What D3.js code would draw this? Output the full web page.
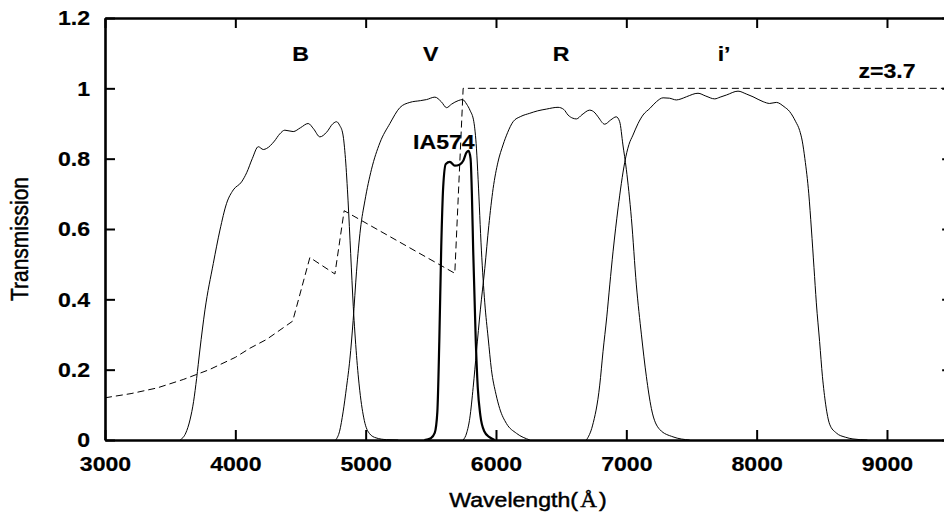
<!DOCTYPE html>
<html>
<head>
<meta charset="utf-8">
<script src="https://cdn.jsdelivr.net/npm/d3@7"></script>
<style>
  html, body { margin: 0; padding: 0; background: #fff; }
  svg { display: block; }
  text { font-family: "Liberation Sans", Arial, Helvetica, sans-serif; fill: #000; }
  .title { stroke: #000; stroke-width: 0.45px; }
  .tick text, .note { stroke: #000; stroke-width: 0.2px; }
</style>
</head>
<body>
<svg id="chart" width="944" height="516"></svg>
<script>
// ---- axis ticks ----
const xTicks = [3000, 4000, 5000, 6000, 7000, 8000, 9000];
const yTicks = [0, 0.2, 0.4, 0.6, 0.8, 1.0, 1.2];
const yTickLabels = ["0", "0.2", "0.4", "0.6", "0.8", "1", "1.2"];

// ---- filter transmission curves (wavelength in Å, transmission) ----
const bWave  = [3575, 3620, 3652, 3680, 3703, 3728, 3767, 3831, 3882, 3933, 3984, 4048, 4087, 4130, 4176, 4215, 4240, 4300, 4340, 4380, 4444, 4500, 4559, 4600, 4649, 4700, 4750, 4777, 4800, 4825, 4845, 4865, 4885, 4905, 4930, 4955, 4990, 5030, 5080, 5160, 5250];
const bTrans = [0, 0.02, 0.057, 0.11, 0.175, 0.256, 0.37, 0.502, 0.597, 0.673, 0.711, 0.734, 0.76, 0.8, 0.834, 0.826, 0.829, 0.85, 0.87, 0.881, 0.877, 0.888, 0.9, 0.885, 0.862, 0.875, 0.9, 0.905, 0.895, 0.87, 0.8, 0.68, 0.53, 0.38, 0.24, 0.14, 0.055, 0.018, 0.006, 0.001, 0];

const vWave  = [4770, 4800, 4827, 4853, 4879, 4904, 4930, 4960, 4994, 5045, 5109, 5186, 5262, 5339, 5420, 5467, 5531, 5580, 5621, 5659, 5710, 5743, 5775, 5800, 5830, 5850, 5863, 5888, 5914, 5940, 5965, 6000, 6028, 6080, 6157, 6260];
const vTrans = [0, 0.025, 0.08, 0.15, 0.23, 0.34, 0.48, 0.6, 0.68, 0.77, 0.845, 0.9, 0.945, 0.96, 0.965, 0.968, 0.975, 0.962, 0.945, 0.955, 0.965, 0.968, 0.955, 0.938, 0.905, 0.83, 0.74, 0.54, 0.39, 0.29, 0.2, 0.13, 0.09, 0.047, 0.019, 0];

const iaWave  = [5450, 5500, 5530, 5550, 5565, 5580, 5595, 5615, 5646, 5684, 5720, 5750, 5774, 5790, 5805, 5815, 5825, 5845, 5860, 5880, 5910, 5950, 5990];
const iaTrans = [0, 0.005, 0.02, 0.08, 0.28, 0.55, 0.72, 0.785, 0.791, 0.78, 0.783, 0.795, 0.818, 0.822, 0.8, 0.7, 0.54, 0.28, 0.15, 0.07, 0.025, 0.008, 0];

const rWave  = [5748, 5775, 5799, 5825, 5850, 5880, 5914, 5945, 5978, 6015, 6054, 6090, 6131, 6190, 6259, 6320, 6387, 6476, 6520, 6553, 6590, 6617, 6660, 6719, 6760, 6783, 6834, 6880, 6923, 6949, 6974, 7000, 7039, 7077, 7116, 7154, 7192, 7256, 7358, 7486];
const rTrans = [0, 0.02, 0.062, 0.15, 0.251, 0.37, 0.488, 0.61, 0.715, 0.79, 0.839, 0.875, 0.905, 0.92, 0.929, 0.936, 0.941, 0.946, 0.94, 0.924, 0.915, 0.913, 0.925, 0.938, 0.93, 0.919, 0.898, 0.91, 0.919, 0.905, 0.839, 0.77, 0.63, 0.441, 0.299, 0.18, 0.09, 0.03, 0.009, 0];

const iWave  = [6694, 6740, 6796, 6821, 6850, 6873, 6898, 6937, 6962, 6988, 7020, 7051, 7090, 7128, 7181, 7231, 7282, 7330, 7384, 7420, 7461, 7550, 7610, 7678, 7720, 7768, 7857, 7920, 7972, 8050, 8100, 8151, 8210, 8253, 8300, 8330, 8350, 8370, 8400, 8420, 8440, 8458, 8483, 8505, 8530, 8560, 8611, 8680, 8739, 8850];
const iTrans = [0, 0.04, 0.156, 0.251, 0.35, 0.441, 0.535, 0.66, 0.73, 0.79, 0.84, 0.867, 0.9, 0.924, 0.943, 0.962, 0.973, 0.972, 0.967, 0.97, 0.976, 0.986, 0.978, 0.97, 0.975, 0.981, 0.992, 0.984, 0.976, 0.962, 0.957, 0.96, 0.948, 0.934, 0.905, 0.88, 0.85, 0.8, 0.7, 0.6, 0.49, 0.39, 0.28, 0.18, 0.1, 0.045, 0.02, 0.008, 0.003, 0];

// ---- model spectrum of a z=3.7 source (Lyman forest attenuation) ----
const specWave  = [3000, 3200, 3400, 3600, 3800, 4000, 4112, 4240, 4440, 4572, 4764, 4835, 5684, 5748, 9500];
const specTrans = [0.12, 0.132, 0.148, 0.172, 0.2, 0.235, 0.261, 0.286, 0.338, 0.519, 0.472, 0.652, 0.474, 1.0, 1.0];

// ---- annotations ----
const filterNames = ["B", "V", "R", "i\u2019"];
const filterLabelWave = [4500, 5500, 6500, 7750];
const filterLabelLevel = 1.079;
const specLabel = "z=3.7";
const specLabelWave = 9000, specLabelLevel = 1.028;
const iaLabel = "IA574";
const iaLabelWave = 5600, iaLabelLevel = 0.827;

// ---- layout ----
const svg = d3.select("#chart");
const plotLeft = 105, plotTop = 18, plotBottom = 440;
const pxPerAngstrom = 0.13033;
const x = d3.scaleLinear().domain([3000, 9500]).range([plotLeft, plotLeft + 6500 * pxPerAngstrom]);
const y = d3.scaleLinear().domain([0, 1.2]).range([plotBottom, plotTop]);
const stretch = 1.1; // glyphs are drawn slightly wide

svg.append("defs").append("clipPath").attr("id", "plotClip")
  .append("rect").attr("x", plotLeft).attr("y", plotTop)
  .attr("width", x(9500) - plotLeft).attr("height", plotBottom - plotTop);

const plot = svg.append("g").attr("clip-path", "url(#plotClip)");

const line = d3.line().x(d => x(d[0])).y(d => y(d[1])).curve(d3.curveMonotoneX);
const lineLin = d3.line().x(d => x(d[0])).y(d => y(d[1]));

// spectrum (dashed)
plot.append("path")
  .attr("d", lineLin(d3.zip(specWave, specTrans)))
  .attr("fill", "none").attr("stroke", "#000").attr("stroke-width", 1)
  .attr("stroke-dasharray", "7,4");

// broad-band filters (thin)
[[bWave, bTrans], [vWave, vTrans], [rWave, rTrans], [iWave, iTrans]].forEach(([w, t]) => {
  plot.append("path")
    .attr("d", line(d3.zip(w, t)))
    .attr("fill", "none").attr("stroke", "#000").attr("stroke-width", 1);
});

// intermediate-band filter (thick)
plot.append("path")
  .attr("d", line(d3.zip(iaWave, iaTrans)))
  .attr("fill", "none").attr("stroke", "#000").attr("stroke-width", 2.2);

// ---- axes ----
function styleAxis(g) {
  g.attr("font-family", null).attr("font-size", null);
  g.select(".domain").attr("stroke", "#000").attr("stroke-width", 2.6);
  g.selectAll(".tick line").attr("stroke", "#000").attr("stroke-width", 2);
}

const gBottom = svg.append("g").attr("transform", `translate(0,${plotBottom})`)
  .call(d3.axisBottom(x).tickValues(xTicks).tickSizeInner(-10).tickSizeOuter(0)
        .tickPadding(16).tickFormat(d3.format("d")));
styleAxis(gBottom);
gBottom.selectAll(".tick text")
  .attr("font-size", 21).attr("font-weight", "bold")
  .attr("transform", `scale(${stretch},1)`);

const gLeft = svg.append("g").attr("transform", `translate(${plotLeft},0)`)
  .call(d3.axisLeft(y).tickValues(yTicks).tickSizeInner(-10).tickSizeOuter(0)
        .tickPadding(15).tickFormat((d, i) => yTickLabels[i]));
styleAxis(gLeft);
gLeft.selectAll(".tick text")
  .attr("font-size", 21).attr("font-weight", "bold")
  .attr("x", -15 / stretch)
  .attr("transform", `scale(${stretch},1)`);

const gTop = svg.append("g").attr("transform", `translate(0,${plotTop})`)
  .call(d3.axisTop(x).tickValues(xTicks).tickSizeInner(-10).tickSizeOuter(0).tickFormat(""));
styleAxis(gTop);

const gRight = svg.append("g").attr("transform", `translate(${x(9500)},0)`)
  .call(d3.axisRight(y).tickValues(yTicks).tickSizeInner(-10).tickSizeOuter(0).tickFormat(""));
styleAxis(gRight);

// ---- axis titles ----
svg.append("text").attr("class", "title")
  .attr("transform", `translate(28,239) rotate(-90) scale(1,${stretch})`)
  .attr("text-anchor", "middle").attr("font-size", 21)
  .text("Transmission");

const xTitle = svg.append("text").attr("class", "title")
  .attr("transform", `translate(528,507) scale(${stretch},1)`)
  .attr("text-anchor", "middle").attr("font-size", 21);
xTitle.append("tspan").text("Wavelength(");
xTitle.append("tspan").attr("font-family", "'Liberation Serif', 'Times New Roman', serif")
  .attr("dx", 2).text("\u00C5");
xTitle.append("tspan").attr("dx", 2).text(")");

// ---- annotations ----
function label(txt, wl, lvl) {
  svg.append("text").attr("class", "note")
    .attr("transform", `translate(${x(wl)},${y(lvl)}) scale(${stretch},1)`)
    .attr("text-anchor", "middle").attr("font-size", 21).attr("font-weight", "bold")
    .text(txt);
}
filterNames.forEach((n, i) => label(n, filterLabelWave[i], filterLabelLevel));
label(specLabel, specLabelWave, specLabelLevel);
label(iaLabel, iaLabelWave, iaLabelLevel);
</script>
</body>
</html>
